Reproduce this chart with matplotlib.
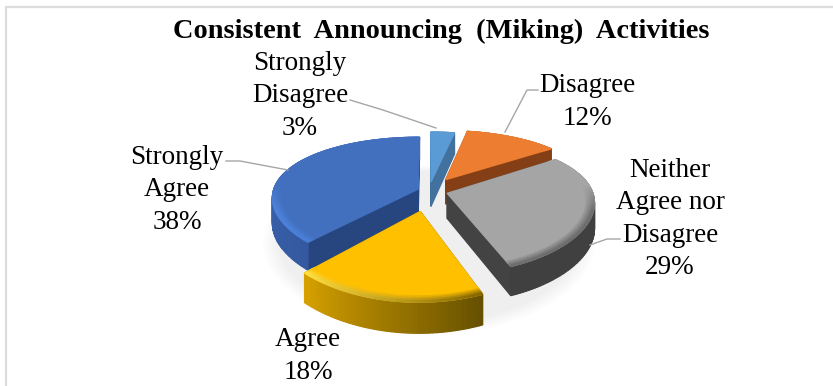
import numpy as np
import matplotlib
matplotlib.use("Agg")
import matplotlib.pyplot as plt
from matplotlib.colors import LinearSegmentedColormap, to_rgb
from matplotlib.patches import Polygon

labels = ["Strongly\nDisagree\n3%", "Disagree\n12%", "Neither\nAgree nor\nDisagree\n29%",
          "Agree\n18%", "Strongly\nAgree\n38%"]
values = [3, 12, 29, 18, 38]
title = "Consistent  Announcing  (Miking)  Activities"

top_colors  = ["#5b9bd5", "#ed7d31", "#a5a5a5", "#ffc000", "#4270bf"]
side_colors = ["#41719c", "#843f17", "#434343", "#6d5200", "#27467f"]
rim_left    = ["#41719c", "#843f17", "#404040", "#d6a000", "#3f6dbd"]
rim_right   = ["#41719c", "#843f17", "#404040", "#665000", "#3459a0"]
bevel_left  = ["#5b9bd5", "#ed7d31", "#6a6a6a", "#ffe24a", "#5f95f0"]
bevel_right = ["#5b9bd5", "#ed7d31", "#6a6a6a", "#7d6000", "#4a7fd8"]
explode     = [0.15, 0.22, 0.13, 0.31, 0.08]
draw_order  = [0, 1, 4, 2, 3]

# projection of the tilted pie, disc coordinates to pixels
CX, CY = 429, 191
RX, RY = 145, 63
PERSP = 0.20
PERSP_X = 0.13
PERSP_Z = 0.15
DEPTH = 25


def proj(u, v, z=0.0):
    return (CX + RX * u / (1 - PERSP_X * v),
            CY + RY * v / (1 - PERSP * v) + DEPTH * z / (1 - PERSP_Z * v))


def disc(theta, r, off):
    return off[0] + r * np.sin(theta), off[1] - r * np.cos(theta)


def poly(ax, xs, ys, color, zorder=2):
    ax.add_patch(Polygon(np.column_stack([xs, ys]), closed=True, fc=color, ec=color, lw=0.9, zorder=zorder))


fig = plt.figure(figsize=(8.33, 3.86), dpi=100)
ax = fig.add_axes([0, 0, 1, 1])
ax.set_xlim(0, 833)
ax.set_ylim(386, 0)
ax.axis("off")

# chart frame
ax.plot([6.5, 6.5, 833], [386, 7, 7], color="#dcdcdc", lw=1.6, zorder=1)

fractions = np.array(values) / sum(values)
edges = np.concatenate([[0], np.cumsum(fractions)]) * 2 * np.pi

# soft shadow below the pie
tt = np.linspace(0, 2 * np.pi, 200)
for grow in np.linspace(1.10, 1.0, 8):
    su, sv = grow * np.sin(tt), grow * np.cos(tt) + 0.22
    sx, sy = proj(su, sv, 1.0)
    ax.add_patch(Polygon(np.column_stack([sx, sy]), fc="#000000", ec="none", alpha=0.006, zorder=1))

for i in draw_order:
    a0, a1 = edges[i], edges[i + 1]
    mid = (a0 + a1) / 2
    off = (explode[i] * np.sin(mid), -explode[i] * np.cos(mid))
    th = np.linspace(a0, a1, max(int(values[i] * 3), 12))

    # radial walls
    for a in (a0, a1):
        eu, ev = disc(a, 1.0, off)
        xs0, ys0 = proj(off[0], off[1])
        xs1, ys1 = proj(eu, ev)
        xs2, ys2 = proj(eu, ev, 1.0)
        xs3, ys3 = proj(off[0], off[1], 1.0)
        poly(ax, [xs0, xs1, xs2, xs3], [ys0, ys1, ys2, ys3], side_colors[i])

    # outer rim, shaded strip by strip
    u, v = disc(th, 1.0, off)
    xa, ya = proj(u, v)
    xb, yb = proj(u, v, 1.0)
    rim_cmap = LinearSegmentedColormap.from_list("rim", [rim_right[i], rim_left[i]])
    for j in range(len(th) - 1):
        col = rim_cmap(j / (len(th) - 2))
        poly(ax, [xa[j], xa[j + 1], xb[j + 1], xb[j]], [ya[j], ya[j + 1], yb[j + 1], yb[j]], col, zorder=2)

    # top face
    xc, yc = proj(off[0], off[1])
    poly(ax, np.r_[xc, xa], np.r_[yc, ya], top_colors[i], zorder=2)

    # bevel along the outer edge of the top face, only towards the viewer
    bevel_cmap = LinearSegmentedColormap.from_list("bevel", [bevel_right[i], bevel_left[i]])
    base = np.array(to_rgb(top_colors[i]))
    rings = np.linspace(0.93, 1.0, 6)
    for r0, r1 in zip(rings[:-1], rings[1:]):
        mix = (r0 - 0.93) / 0.06
        u0, v0 = disc(th, r0, off)
        u1, v1 = disc(th, r1, off)
        x0, y0 = proj(u0, v0)
        x1, y1 = proj(u1, v1)
        for j in range(len(th) - 1):
            c = np.array(to_rgb(bevel_cmap(j / (len(th) - 2))))
            facing = np.clip((v1[j] + 0.1) / 0.4, 0, 1)
            col = base + (c - base) * mix * facing
            poly(ax, [x0[j], x0[j + 1], x1[j + 1], x1[j]], [y0[j], y0[j + 1], y1[j + 1], y1[j]], col, zorder=2)

# leader lines
LEADER = "#a6a6a6"
ax.plot([350, 383, 436], [100, 110, 128], color=LEADER, lw=1.0, zorder=3)
ax.plot([538, 527, 505], [90, 90, 132], color=LEADER, lw=1.0, zorder=3)
ax.plot([226, 240, 288], [161, 161, 170], color=LEADER, lw=1.0, zorder=3)
ax.plot([620, 607, 590], [239, 239, 245], color=LEADER, lw=1.0, zorder=3)

# text
serif = "Liberation Serif"
ax.text(441, 31, title, family=serif, weight="bold", fontsize=20.4, ha="center", va="center", color="black", zorder=4)
label_pos = [(300, 96), (587, 102), (670, 219), (308, 356), (177, 190)]
for txt, (lx, ly) in zip(labels, label_pos):
    ax.text(lx, ly, txt, family=serif, fontsize=19.5, ha="center", va="center", linespacing=1.4, color="black", zorder=4)

fig.savefig("out.png", dpi=100)
